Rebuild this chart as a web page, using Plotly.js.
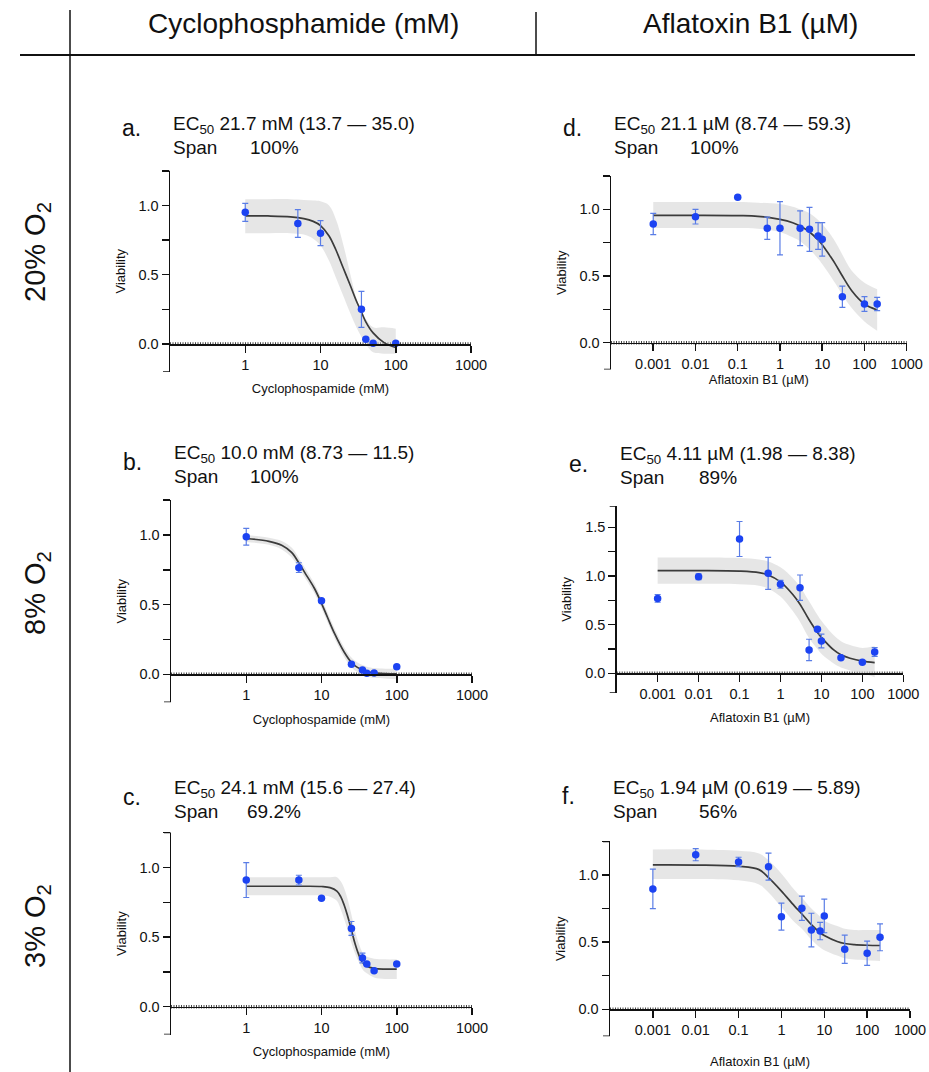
<!DOCTYPE html>
<html>
<head>
<meta charset="utf-8">
<script src="https://cdn.plot.ly/plotly-3.0.1.min.js"></script>
<style>html,body{margin:0;padding:0;background:#fff;}#chart{width:929px;height:1072px;}</style>
</head>
<body>
<div id="chart"></div>
<script>
// ---------- data ----------
// Cyclophosphamide, 20% O2 (panel a)
const a_x = [1, 5, 10, 35, 40, 50, 100];
const a_y = [0.95, 0.87, 0.80, 0.25, 0.034, 0.005, 0.005];
const a_err = [0.065, 0.10, 0.09, 0.13, 0, 0, 0];
const a_fit_x = [1, 2, 4, 6, 8, 10, 13, 16, 20, 25, 30, 35, 40, 50, 70, 100];
const a_fit_y = [0.925, 0.924, 0.918, 0.905, 0.885, 0.855, 0.78, 0.68, 0.55, 0.42, 0.31, 0.23, 0.16, 0.08, 0.01, -0.025];
const a_hi = [1.045, 1.045, 1.045, 1.04, 1.035, 1.03, 1.0, 0.9, 0.72, 0.5, 0.33, 0.24, 0.18, 0.12, 0.12, 0.11];
const a_lo = [0.80, 0.80, 0.80, 0.79, 0.76, 0.71, 0.6, 0.48, 0.35, 0.22, 0.12, 0.05, 0.0, -0.06, -0.07, -0.07];

// Cyclophosphamide, 8% O2 (panel b)
const b_x = [1, 5, 10, 25, 35, 40, 50, 100];
const b_y = [0.988, 0.766, 0.529, 0.072, 0.031, 0.007, 0.01, 0.055];
const b_err = [0.06, 0.035, 0, 0, 0, 0, 0, 0];
const b_fit_x = [1, 2, 3, 4, 5, 6, 8, 10, 12, 15, 20, 25, 30, 40, 50, 70, 100];
const b_fit_y = [0.975, 0.955, 0.925, 0.875, 0.80, 0.73, 0.62, 0.51, 0.41, 0.29, 0.16, 0.085, 0.05, 0.02, 0.01, 0.005, 0.003];
const b_hi = [1.0, 0.98, 0.955, 0.91, 0.835, 0.765, 0.655, 0.545, 0.445, 0.325, 0.195, 0.12, 0.085, 0.055, 0.045, 0.04, 0.04];
const b_lo = [0.95, 0.93, 0.895, 0.84, 0.765, 0.695, 0.585, 0.475, 0.375, 0.255, 0.125, 0.05, 0.015, -0.015, -0.025, -0.03, -0.035];

// Cyclophosphamide, 3% O2 (panel c)
const c_x = [1, 5, 10, 25, 35, 40, 50, 100];
const c_y = [0.909, 0.909, 0.778, 0.562, 0.35, 0.306, 0.258, 0.306];
const c_err = [0.125, 0.035, 0, 0.05, 0.035, 0, 0, 0];
const c_fit_x = [1, 3, 6, 10, 13, 16, 18, 20, 22, 25, 28, 32, 36, 40, 50, 70, 100];
const c_fit_y = [0.865, 0.865, 0.865, 0.863, 0.855, 0.83, 0.79, 0.73, 0.66, 0.55, 0.45, 0.36, 0.31, 0.29, 0.275, 0.27, 0.27];
const c_hi = [0.93, 0.93, 0.93, 0.93, 0.93, 0.93, 0.90, 0.85, 0.78, 0.66, 0.54, 0.44, 0.38, 0.36, 0.345, 0.34, 0.34];
const c_lo = [0.80, 0.80, 0.80, 0.80, 0.79, 0.76, 0.70, 0.63, 0.56, 0.46, 0.38, 0.31, 0.26, 0.24, 0.21, 0.20, 0.20];

// Aflatoxin B1, 20% O2 (panel d)
const d_x = [0.001, 0.01, 0.1, 0.5, 1, 3, 5, 8, 10, 30, 100, 200];
const d_y = [0.89, 0.945, 1.09, 0.858, 0.858, 0.858, 0.85, 0.80, 0.775, 0.345, 0.29, 0.29];
const d_err = [0.08, 0.055, 0, 0.083, 0.2, 0.13, 0.165, 0.1, 0.125, 0.08, 0.055, 0.05];
const d_fit_x = [0.001, 0.01, 0.1, 0.3, 1, 2, 3, 5, 8, 10, 15, 20, 30, 50, 100, 200];
const d_fit_y = [0.955, 0.955, 0.953, 0.948, 0.925, 0.90, 0.875, 0.83, 0.77, 0.735, 0.655, 0.595, 0.50, 0.39, 0.29, 0.245];
const d_hi = [1.055, 1.055, 1.055, 1.05, 1.04, 1.02, 1.0, 0.97, 0.92, 0.89, 0.82, 0.76, 0.66, 0.54, 0.45, 0.40];
const d_lo = [0.86, 0.86, 0.86, 0.855, 0.83, 0.79, 0.76, 0.70, 0.63, 0.59, 0.51, 0.45, 0.36, 0.26, 0.16, 0.09];

// Aflatoxin B1, 8% O2 (panel e)
const e_x = [0.001, 0.01, 0.1, 0.5, 1, 3, 5, 8, 10, 30, 100, 200];
const e_y = [0.77, 0.993, 1.38, 1.027, 0.914, 0.88, 0.24, 0.452, 0.332, 0.161, 0.113, 0.219];
const e_err = [0.04, 0.03, 0.18, 0.165, 0.04, 0.13, 0.11, 0, 0.07, 0, 0, 0.045];
const e_fit_x = [0.001, 0.01, 0.1, 0.3, 0.5, 1, 2, 3, 5, 8, 10, 20, 30, 50, 100, 200];
const e_fit_y = [1.055, 1.055, 1.05, 1.035, 1.01, 0.94, 0.81, 0.71, 0.55, 0.42, 0.37, 0.24, 0.19, 0.155, 0.125, 0.11];
const e_hi = [1.19, 1.19, 1.185, 1.17, 1.15, 1.09, 0.98, 0.89, 0.74, 0.60, 0.54, 0.39, 0.33, 0.29, 0.26, 0.28];
const e_lo = [0.92, 0.92, 0.915, 0.90, 0.87, 0.79, 0.64, 0.53, 0.36, 0.25, 0.20, 0.10, 0.06, 0.03, 0.0, -0.04];

// Aflatoxin B1, 3% O2 (panel f)
const f_x = [0.001, 0.01, 0.1, 0.5, 1, 3, 5, 8, 10, 30, 100, 200];
const f_y = [0.896, 1.151, 1.097, 1.062, 0.69, 0.752, 0.59, 0.583, 0.695, 0.447, 0.417, 0.536];
const f_err = [0.147, 0.045, 0.035, 0.1, 0.1, 0.09, 0.125, 0.065, 0.125, 0.105, 0.09, 0.1];
const f_fit_x = [0.001, 0.01, 0.1, 0.3, 0.5, 1, 2, 3, 5, 8, 10, 20, 30, 50, 100, 200];
const f_fit_y = [1.075, 1.074, 1.065, 1.04, 0.98, 0.88, 0.77, 0.71, 0.63, 0.57, 0.55, 0.505, 0.49, 0.482, 0.477, 0.475];
const f_hi = [1.19, 1.19, 1.18, 1.16, 1.11, 1.01, 0.89, 0.83, 0.75, 0.69, 0.66, 0.62, 0.60, 0.59, 0.59, 0.59];
const f_lo = [0.97, 0.97, 0.96, 0.93, 0.87, 0.76, 0.65, 0.60, 0.52, 0.46, 0.44, 0.40, 0.38, 0.37, 0.365, 0.36];

// labels
const colHeaders = ['Cyclophosphamide (mM)', 'Aflatoxin B1 (µM)'];
const rowLabels = ['20% O<sub>2</sub>', '8% O<sub>2</sub>', '3% O<sub>2</sub>'];
const panelLetters = ['a.', 'b.', 'c.', 'd.', 'e.', 'f.'];
const ecTexts = ['EC<sub>50</sub> 21.7 mM (13.7 — 35.0)', 'EC<sub>50</sub> 10.0 mM (8.73 — 11.5)', 'EC<sub>50</sub> 24.1 mM (15.6 — 27.4)',
                 'EC<sub>50</sub> 21.1 µM (8.74 — 59.3)', 'EC<sub>50</sub> 4.11 µM (1.98 — 8.38)', 'EC<sub>50</sub> 1.94 µM (0.619 — 5.89)'];
const spanTexts = ['100%', '100%', '69.2%', '100%', '89%', '56%'];
const cycloTicks = [1, 10, 100, 1000];
const cycloTickText = ['1', '10', '100', '1000'];
const aflaTicks = [0.001, 0.01, 0.1, 1, 10, 100, 1000];
const aflaTickText = ['0.001', '0.01', '0.1', '1', '10', '100', '1000'];
const xTitles = ['Cyclophospamide (mM)', 'Aflatoxin B1 (µM)'];

// ---------- geometry (pixels) ----------
const W = 929, H = 1072;
const panels = [
  {d: [a_x, a_y, a_err, a_fit_x, a_fit_y, a_hi, a_lo], xl: 170, xr: 471, yb: 371.7, yt: 170.8, y0: 344, yr: [-0.2, 1.25], xr_: [-1, 3], col: 0, xstand: 14, spanX: 248},
  {d: [b_x, b_y, b_err, b_fit_x, b_fit_y, b_hi, b_lo], xl: 171, xr: 472, yb: 702.2, yt: 500.2, y0: 674.3, yr: [-0.2, 1.25], xr_: [-1, 3], col: 0, xstand: 14, spanX: 248},
  {d: [c_x, c_y, c_err, c_fit_x, c_fit_y, c_hi, c_lo], xl: 171, xr: 472, yb: 1034.6, yt: 832.6, y0: 1006.7, yr: [-0.2, 1.25], xr_: [-1, 3], col: 0, xstand: 14, spanX: 245},
  {d: [d_x, d_y, d_err, d_fit_x, d_fit_y, d_hi, d_lo], xl: 611, xr: 906.7, yb: 369.4, yt: 176, y0: 342.7, yr: [-0.2, 1.25], xr_: [-4, 3], col: 1, xstand: 6, spanX: 688},
  {d: [e_x, e_y, e_err, e_fit_x, e_fit_y, e_hi, e_lo], xl: 616.7, xr: 903.3, yb: 692.8, yt: 505.9, y0: 673.3, yr: [-0.2, 1.72], xr_: [-4, 3], col: 1, xstand: 13, spanX: 697},
  {d: [f_x, f_y, f_err, f_fit_x, f_fit_y, f_hi, f_lo], xl: 610, xr: 910, yb: 1036.2, yt: 841.4, y0: 1009.3, yr: [-0.2, 1.25], xr_: [-4, 3], col: 1, xstand: 21, spanX: 697}
];
const textRows = [ // [letterY, ecY, spanY]
  [128, 125, 147], [462, 454, 476], [797, 789, 811],
  [128, 125, 147], [464, 455, 477], [796, 789, 811]
];

const FONT = 'Liberation Sans, Arial, Helvetica, sans-serif';
const PT_COLOR = '#1c43f2';
const ERR_COLOR = '#5a7de6';
const AX = '#111';
const traces = [];
const layout = {
  width: W, height: H, margin: {l: 0, r: 0, t: 0, b: 0},
  paper_bgcolor: '#fff', plot_bgcolor: 'rgba(0,0,0,0)',
  showlegend: false, font: {family: FONT, color: AX},
  shapes: [], annotations: []
};

panels.forEach((p, i) => {
  const n = i + 1;
  const xa = 'x' + n, ya = 'y' + n;
  const [px, py, pe, fx, fy, hi, lo] = p.d;
  traces.push({x: fx, y: lo, xaxis: xa, yaxis: ya, mode: 'lines', line: {width: 0, shape: 'spline', color: 'rgba(0,0,0,0)'}, hoverinfo: 'skip'});
  traces.push({x: fx, y: hi, xaxis: xa, yaxis: ya, mode: 'lines', fill: 'tonexty', fillcolor: 'rgba(205,205,205,0.5)', line: {width: 0, shape: 'spline', color: 'rgba(0,0,0,0)'}, hoverinfo: 'skip'});
  traces.push({x: fx, y: fy, xaxis: xa, yaxis: ya, mode: 'lines', line: {width: 1.7, shape: 'spline', color: '#3b3b3b'}});
  traces.push({x: px, y: py, xaxis: xa, yaxis: ya, mode: 'markers', marker: {size: 7.5, color: PT_COLOR},
    error_y: {type: 'data', array: pe, visible: true, color: ERR_COLOR, thickness: 1.2, width: 3}});

  const isCyclo = p.col === 0;
  layout['xaxis' + (n === 1 ? '' : n)] = {
    type: 'log', range: p.xr_, domain: [p.xl / W, p.xr / W], anchor: 'free', position: 1 - p.y0 / H,
    showline: true, linecolor: AX, linewidth: 1.5, ticks: 'outside', ticklen: 7, tickwidth: 1.5, tickcolor: AX,
    tickvals: isCyclo ? cycloTicks : aflaTicks, ticktext: isCyclo ? cycloTickText : aflaTickText,
    showgrid: false, zeroline: false, tickfont: {size: 14.5, family: FONT, color: AX},
    title: {text: xTitles[p.col], font: {size: 13, family: FONT, color: AX}, standoff: p.xstand - 2}
  };
  layout['yaxis' + (n === 1 ? '' : n)] = {
    range: p.yr, domain: [1 - p.yb / H, 1 - p.yt / H], anchor: xa,
    showline: true, linecolor: AX, linewidth: 1.5, ticks: 'outside', ticklen: 7, tickwidth: 1.5, tickcolor: AX,
    tickmode: 'linear', tick0: 0, dtick: 0.5, tickformat: '.1f',
    minor: {ticks: 'outside', ticklen: 7, tickwidth: 1.5, tickcolor: AX, dtick: 0.25, tick0: 0, showgrid: false},
    showgrid: false, zeroline: false, tickfont: {size: 14.5, family: FONT, color: AX},
    title: {text: 'Viability', font: {size: 13, family: FONT, color: AX}, standoff: 10}
  };
  // end stubs of the y axis (bracket style)
  [p.yr[0], p.yr[1]].forEach(v => {
    layout.shapes.push({type: 'line', xref: xa + ' domain', yref: ya, xsizemode: 'pixel', xanchor: 0, x0: -7, x1: 0, y0: v, y1: v,
      line: {color: AX, width: 1.5}});
  });
  // hatched zero line (x axis at Y = 0)
  layout.shapes.push({type: 'line', xref: xa + ' domain', yref: ya, x0: 0, x1: 1, y0: 0, y1: 0,
    line: {color: '#444', width: 3.5, dash: '1px,1.5px'}, layer: 'below'});

  // panel letter and EC50 / Span text
  const textLeft = p.xl + 1;
  const [ly, ey, sy] = textRows[i];
  layout.annotations.push({text: panelLetters[i], xref: 'paper', yref: 'paper', x: (p.xl - 50) / W, y: 1 - ly / H,
    xanchor: 'left', yanchor: 'middle', showarrow: false, font: {size: 23, family: FONT, color: AX}});
  layout.annotations.push({text: ecTexts[i], xref: 'paper', yref: 'paper', x: textLeft / W, y: 1 - ey / H,
    xanchor: 'left', yanchor: 'middle', showarrow: false, font: {size: 19, family: FONT, color: AX}});
  layout.annotations.push({text: 'Span', xref: 'paper', yref: 'paper', x: textLeft / W, y: 1 - sy / H,
    xanchor: 'left', yanchor: 'middle', showarrow: false, font: {size: 19, family: FONT, color: AX}});
  layout.annotations.push({text: spanTexts[i], xref: 'paper', yref: 'paper', x: p.spanX / W, y: 1 - sy / H,
    xanchor: 'left', yanchor: 'middle', showarrow: false, font: {size: 19, family: FONT, color: AX}});
});

// header, row labels and divider lines
layout.annotations.push({text: colHeaders[0], xref: 'paper', yref: 'paper', x: 303 / W, y: 1 - 24 / H, xanchor: 'center', yanchor: 'middle', showarrow: false, font: {size: 28, family: FONT, color: AX}});
layout.annotations.push({text: colHeaders[1], xref: 'paper', yref: 'paper', x: 750 / W, y: 1 - 24 / H, xanchor: 'center', yanchor: 'middle', showarrow: false, font: {size: 28, family: FONT, color: AX}});
[252, 593, 926].forEach((cy, k) => {
  layout.annotations.push({text: rowLabels[k], xref: 'paper', yref: 'paper', x: 37 / W, y: 1 - cy / H, xanchor: 'center', yanchor: 'middle',
    textangle: -90, showarrow: false, font: {size: 29, family: FONT, color: AX}});
});
layout.shapes.push({type: 'line', xref: 'paper', yref: 'paper', x0: 20 / W, x1: 915 / W, y0: 1 - 55 / H, y1: 1 - 55 / H, line: {color: AX, width: 2}});
layout.shapes.push({type: 'line', xref: 'paper', yref: 'paper', x0: 70 / W, x1: 70 / W, y0: 1 - 10 / H, y1: 0, line: {color: AX, width: 1.5}});
layout.shapes.push({type: 'line', xref: 'paper', yref: 'paper', x0: 536 / W, x1: 536 / W, y0: 1 - 12 / H, y1: 1 - 55 / H, line: {color: AX, width: 1.5}});

Plotly.newPlot('chart', traces, layout, {staticPlot: true, displayModeBar: false});
</script>
</body>
</html>
